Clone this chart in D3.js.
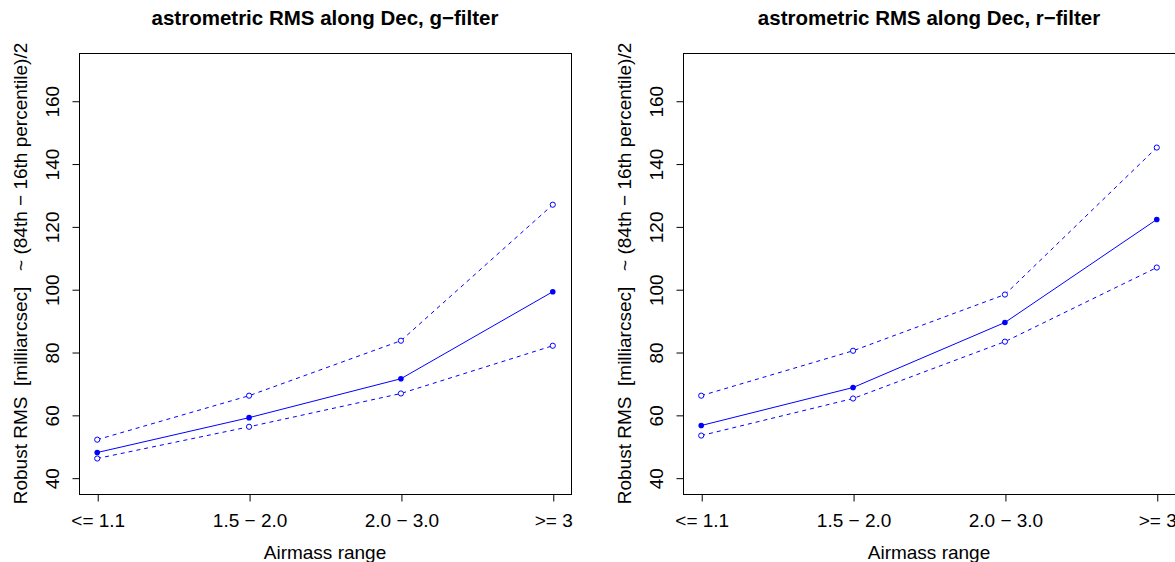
<!DOCTYPE html>
<html>
<head>
<meta charset="utf-8">
<script src="https://cdn.jsdelivr.net/npm/d3@7"></script>
<style>
  body { margin: 0; background: #fff; }
  svg { display: block; font-family: "Liberation Sans", Arial, sans-serif; }
</style>
</head>
<body>
<div id="chart"></div>
<script>
const categories = ["<= 1.1", "1.5 \u2212 2.0", "2.0 \u2212 3.0", ">= 3"];
const yTicks = [40, 60, 80, 100, 120, 140, 160];

const gMedian = [48.0, 59.1, 71.5, 99.2];
const gUpper = [52.1, 66.1, 83.6, 126.9];
const gLower = [46.1, 56.2, 66.8, 82.0];

const rMedian = [56.6, 68.7, 89.4, 122.2];
const rUpper = [66.1, 80.4, 98.3, 145.1];
const rLower = [53.4, 65.2, 83.3, 106.9];

const width = 1175;
const height = 562;
const blue = "#0000ff";
const fontSize = "19px";

const svg = d3
  .select("#chart")
  .append("svg")
  .attr("width", width)
  .attr("height", height);

function drawPanel(left, title, median, upper, lower) {
  const boxW = 492;
  const top = 53;
  const bottom = 494;

  // R style 4% padding on both axes
  const xScale = d3.scaleLinear().domain([0.88, 4.12]).range([left, left + boxW]);
  const yScale = d3.scaleLinear().domain([34.8, 175.2]).range([bottom, top]);

  const g = svg.append("g");

  g.append("text")
    .attr("x", left + boxW / 2)
    .attr("y", 25)
    .attr("text-anchor", "middle")
    .attr("font-size", "20.5px")
    .attr("font-weight", "bold")
    .text(title);

  g.append("rect")
    .attr("x", left + 0.5)
    .attr("y", top + 0.5)
    .attr("width", boxW)
    .attr("height", bottom - top)
    .attr("fill", "none")
    .attr("stroke", "#000");

  // x axis
  const xAxis = d3
    .axisBottom(xScale)
    .tickValues([1, 2, 3, 4])
    .tickSize(7)
    .tickFormat((d) => categories[d - 1]);
  const xa = g.append("g").attr("transform", `translate(0.5, ${bottom + 0.5})`).call(xAxis);
  xa.select(".domain").attr("d", `M${xScale(1)},0H${xScale(4)}`);
  xa.selectAll("text")
    .attr("font-size", fontSize)
    .attr("fill", "#000")
    .attr("font-family", "Liberation Sans, Arial, sans-serif")
    .attr("y", 32)
    .attr("dy", 0);

  // y axis
  const yAxis = d3.axisLeft(yScale).tickValues(yTicks).tickSize(7).tickFormat(d3.format("d"));
  const ya = g.append("g").attr("transform", `translate(${left + 0.5}, 0.5)`).call(yAxis);
  ya.select(".domain").attr("d", `M0,${yScale(40)}V${yScale(160)}`);
  ya.selectAll("text")
    .attr("font-size", fontSize)
    .attr("fill", "#000")
    .attr("font-family", "Liberation Sans, Arial, sans-serif")
    .attr("text-anchor", "middle")
    .attr("x", 0)
    .attr("dy", 0)
    .attr("transform", "translate(-21,0) rotate(-90)");

  g.append("text")
    .attr("x", left + boxW / 2)
    .attr("y", 559)
    .attr("text-anchor", "middle")
    .attr("font-size", fontSize)
    .text("Airmass range");

  g.append("text")
    .attr("transform", `translate(${left - 52}, ${(top + bottom) / 2}) rotate(-90)`)
    .attr("text-anchor", "middle")
    .attr("font-size", fontSize)
    .attr("xml:space", "preserve")
    .style("white-space", "pre")
    .text("Robust RMS  [milliarcsec]   ~ (84th \u2212 16th percentile)/2");

  const line = d3
    .line()
    .x((d, i) => xScale(i + 1))
    .y((d) => yScale(d));

  [upper, lower].forEach((series) => {
    g.append("path")
      .attr("d", line(series))
      .attr("fill", "none")
      .attr("stroke", blue)
      .attr("stroke-width", 1)
      .attr("stroke-dasharray", "4,4");
    g.selectAll(null)
      .data(series)
      .join("circle")
      .attr("cx", (d, i) => xScale(i + 1))
      .attr("cy", (d) => yScale(d))
      .attr("r", 2.6)
      .attr("fill", "#fff")
      .attr("stroke", blue)
      .attr("stroke-width", 1);
  });

  g.append("path")
    .attr("d", line(median))
    .attr("fill", "none")
    .attr("stroke", blue)
    .attr("stroke-width", 1);
  g.selectAll(null)
    .data(median)
    .join("circle")
    .attr("cx", (d, i) => xScale(i + 1))
    .attr("cy", (d) => yScale(d))
    .attr("r", 2.8)
    .attr("fill", blue);
}

drawPanel(79, "astrometric RMS along Dec, g\u2212filter", gMedian, gUpper, gLower);
drawPanel(683, "astrometric RMS along Dec, r\u2212filter", rMedian, rUpper, rLower);
</script>
</body>
</html>
